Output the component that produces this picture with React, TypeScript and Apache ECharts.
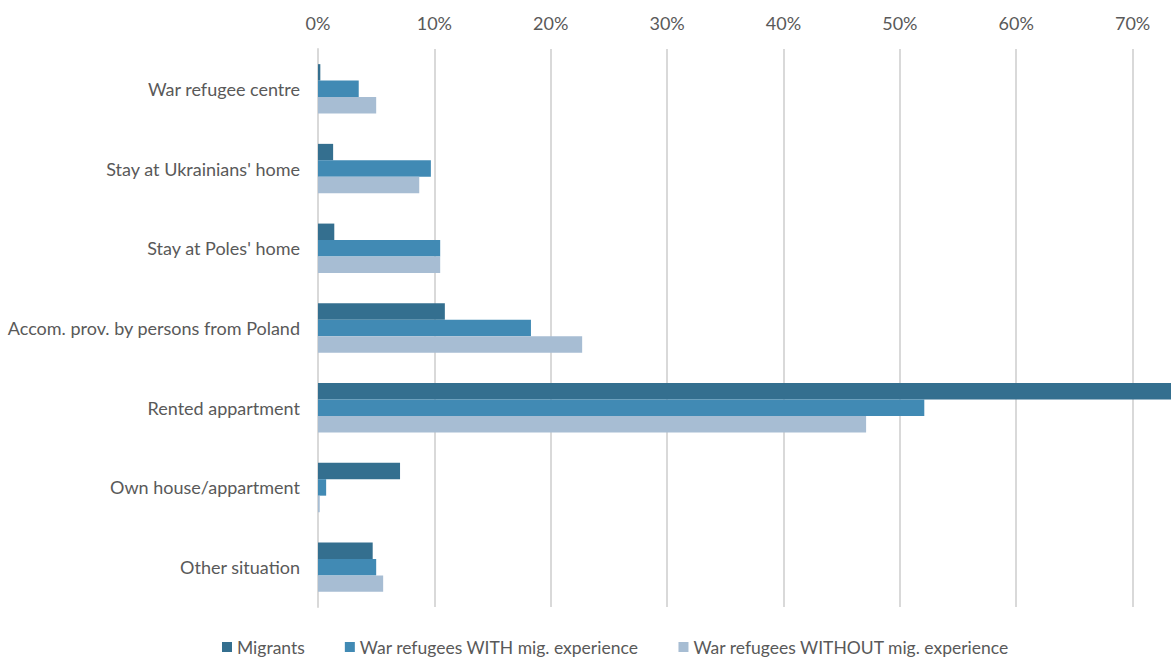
import React, { useEffect, useRef } from "react";
import * as echarts from "echarts";

const categories = [
  "War refugee centre",
  "Stay at Ukrainians' home",
  "Stay at Poles' home",
  "Accom. prov. by persons from Poland",
  "Rented appartment",
  "Own house/appartment",
  "Other situation",
];
const migrants = [0.2, 1.3, 1.4, 10.9, 74.0, 7.05, 4.7];
const withExp = [3.5, 9.7, 10.5, 18.3, 52.1, 0.7, 5.0];
const withoutExp = [5.0, 8.7, 10.5, 22.7, 47.1, 0.15, 5.6];
const seriesNames = [
  "Migrants",
  "War refugees WITH mig. experience",
  "War refugees WITHOUT mig. experience",
];
const colors = ["#346f8f", "#418ab4", "#a7bdd3"];

export default function App() {
  const ref = useRef<HTMLDivElement>(null);
  useEffect(() => {
    if (!ref.current) return;
    const chart = echarts.init(ref.current, null, { renderer: "svg" });
    const font = "Lato, 'Open Sans', sans-serif";
    const datas = [migrants, withExp, withoutExp];
    chart.setOption({
      animation: false,
      color: colors,
      textStyle: { fontFamily: font },
      grid: { left: 318, right: 0, top: 49, bottom: 52, containLabel: false },
      legend: {
        top: 638,
        left: 222,
        padding: 0,
        itemWidth: 10,
        itemHeight: 10,
        itemGap: 40,
        icon: "rect",
        textStyle: { color: "#595959", fontSize: 17.5, fontFamily: font },
        data: seriesNames,
      },
      xAxis: {
        type: "value",
        position: "top",
        min: 0,
        max: 73.3,
        interval: 10,
        axisLine: { show: false },
        axisTick: { show: false },
        axisLabel: {
          color: "#595959",
          fontSize: 18,
          margin: 17,
          formatter: "{value}%",
          showMaxLabel: false,
        },
        splitLine: {
          show: true,
          showMaxLine: false,
          lineStyle: { color: "#d9d9d9", width: 2 },
        },
      },
      yAxis: {
        type: "category",
        inverse: true,
        data: categories,
        axisLine: { show: true, lineStyle: { color: "#d9d9d9", width: 2 } },
        axisTick: { show: false },
        axisLabel: { color: "#595959", fontSize: 18, margin: 18 },
      },
      series: seriesNames.map((name, i) => ({
        name,
        type: "bar",
        data: datas[i],
        barGap: "0%",
        barCategoryGap: "38%",
        clip: true,
        itemStyle: { color: colors[i] },
      })),
    });
    return () => chart.dispose();
  }, []);
  return (
    <div
      ref={ref}
      style={{ position: "fixed", left: 0, top: 0, width: 1171, height: 659, background: "#fff" }}
    />
  );
}
